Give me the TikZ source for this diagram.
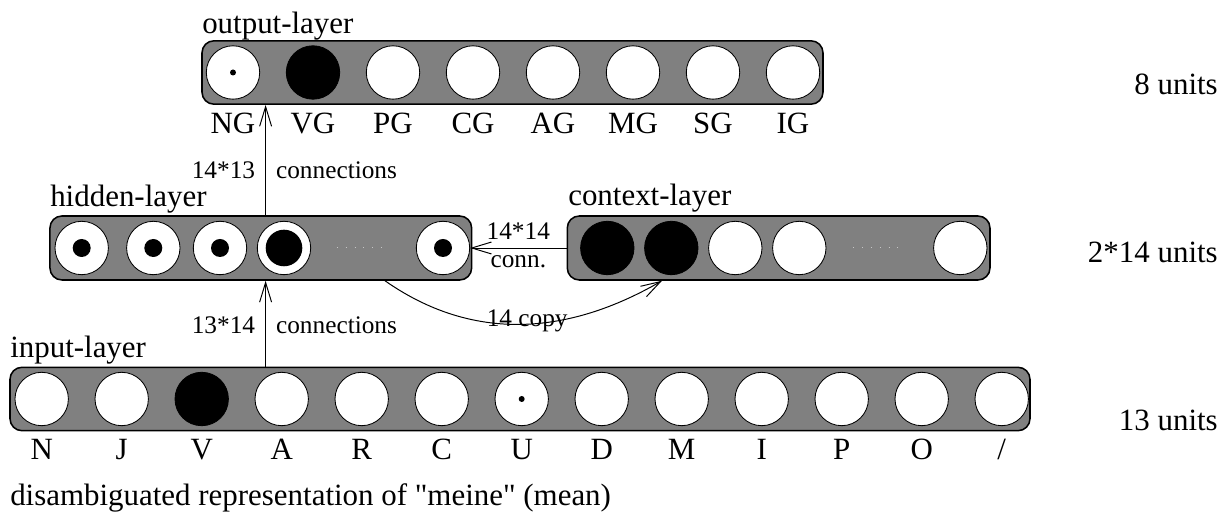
\documentclass[tikz,border=0pt]{standalone}
\usepackage{fontspec}
\setmainfont{Liberation Serif}
\newfontfamily\plainserif{Liberation Serif}
\usepackage{tikz}
\usetikzlibrary{arrows.meta}

\newcommand{\biglbl}{\fontsize{22}{26}\selectfont}
\newcommand{\smalllbl}{\fontsize{18}{21}\selectfont}

\begin{document}
\begin{tikzpicture}[node distance=2cm, >={Straight Barb[length=14pt, width=8.5pt]},
    neuron/.style={circle, draw, fill=white, minimum size=1.335cm, inner sep=0pt, line width=0.6pt},
    fired/.style={neuron, fill=black},
    layerbox/.style={draw, line width=1.1pt, fill=gray, rounded corners=0.3cm, minimum height=1.585cm, inner sep=0pt},
    layername/.style={anchor=base west, font=\biglbl, inner sep=0pt},
    every label/.style={font=\biglbl}, label distance=0.2cm]
    \useasboundingbox (0,0) rectangle (30.525,12.875);

    % output layer
    \node[layerbox, minimum width=15.525cm] (outbox) at (12.8125,11.0625) {};
    \node[neuron, label=below:NG] (NG) at (5.825,11.0625) {};
    \node[fired, label=below:VG] (VG) [right of=NG] {};
    \node[neuron, label=below:PG] (PG) [right of=VG] {};
    \node[neuron, label=below:CG] (CG) [right of=PG] {};
    \node[neuron, label=below:AG] (AG) [right of=CG] {};
    \node[neuron, label=below:MG] (MG) [right of=AG] {};
    \node[neuron, label=below:SG] (SG) [right of=MG] {};
    \node[neuron, label=below:IG] (IG) [right of=SG] {};
    \fill (NG) circle (0.075cm);

    % hidden layer
    \node[layerbox, minimum width=10.5425cm, minimum height=1.6cm] (hidbox) at (6.52,6.675) {};
    \node[neuron] (h1) at (2.0425,6.675) {};
    \node[neuron] (h2) at (3.8325,6.675) {};
    \node[neuron] (h3) at (5.5,6.675) {};
    \node[neuron] (h4) at (7.1,6.675) {};
    \node[neuron] (h14) at (11.075,6.675) {};
    \fill (h1) circle (0.225cm);
    \fill (h2) circle (0.225cm);
    \fill (h3) circle (0.225cm);
    \fill (h4) circle (0.4575cm);
    \fill (h14) circle (0.225cm);
    \draw[gray!45, line width=0.8pt, dash pattern=on 0.5pt off 5.8pt] (8.42,6.68) -- (9.6,6.68);

    % context layer
    \node[layerbox, minimum width=10.5675cm, minimum height=1.6cm] (ctxbox) at (19.466,6.675) {};
    \node[fired] (c1) at (15.1825,6.675) {};
    \node[fired] (c2) [right of=c1, node distance=1.6cm] {};
    \node[neuron] (c3) [right of=c2, node distance=1.6cm] {};
    \node[neuron] (c4) [right of=c3, node distance=1.6cm] {};
    \node[neuron] (c14) at (24.0075,6.675) {};
    \draw[gray!45, line width=0.8pt, dash pattern=on 0.5pt off 5.8pt] (21.33,6.68) -- (22.5,6.68);

    % input layer
    \node[layerbox, minimum width=25.5cm] (inbox) at (13,2.9) {};
    \node[neuron, label=below:N] (N) at (1.0425,2.9) {};
    \node[neuron, label=below:J] (J) [right of=N] {};
    \node[fired, label=below:V] (V) [right of=J] {};
    \node[neuron, label=below:A] (A) [right of=V] {};
    \node[neuron, label=below:R] (R) [right of=A] {};
    \node[neuron, label=below:C] (C) [right of=R] {};
    \node[neuron, label=below:U] (U) [right of=C] {};
    \node[neuron, label=below:D] (D) [right of=U] {};
    \node[neuron, label=below:M] (M) [right of=D] {};
    \node[neuron, label=below:I] (I) [right of=M] {};
    \node[neuron, label=below:P] (P) [right of=I] {};
    \node[neuron, label=below:O] (O) [right of=P] {};
    \node[neuron, label=below:/] (slash) [right of=O] {};
    \fill (U) circle (0.075cm);

    % layer names
    \node[layername] (outname) at (5.05,12.0425) {output-layer};
    \node[layername] (hidname) at (1.25,7.7075) {hidden-layer};
    \node[layername] (ctxname) at (14.2,7.725) {context-layer};
    \node[layername] (inname) at (0.25,3.925) {input-layer};

    \node[anchor=base east, font=\biglbl, inner sep=0pt] (n8) at (30.45,10.5) {8 units};
    \node[anchor=base east, font=\biglbl, inner sep=0pt] (n28) at (30.45,6.3) {2*14 units};
    \node[anchor=base east, font=\biglbl, inner sep=0pt] (n13) at (30.45,2.1) {13 units};
    \node[anchor=base west, font=\biglbl\plainserif, inner sep=0pt] (caption) at (0.25,0.225) {disambiguated representation of "meine" (mean)};

    % connections
    \coordinate (col) at (6.64,0);
    \coordinate (cpyA) at (9.625,0);
    \coordinate (cpyB) at (16.55,0);
    \draw[->, line width=0.7pt] (col |- inbox.north) -- (col |- hidbox.south)
        node[pos=0.38, anchor=base east, xshift=-0.25cm, inner sep=0pt, font=\smalllbl] {13*14}
        node[pos=0.38, anchor=base west, xshift=0.25cm, inner sep=0pt, font=\smalllbl] {connections};
    \draw[->, line width=0.7pt] (col |- hidbox.north) -- (col |- outbox.south)
        node[pos=0.337, anchor=base east, xshift=-0.25cm, inner sep=0pt, font=\smalllbl] {14*13}
        node[pos=0.337, anchor=base west, xshift=0.25cm, inner sep=0pt, font=\smalllbl] {connections};
    \draw[->, line width=0.7pt] (ctxbox.west) -- (h14.east)
        node[midway, above=0.2cm, inner sep=0pt, font=\smalllbl] {14*14}
        node[midway, below=0.18cm, inner sep=0pt, font=\smalllbl] {conn.};
    \draw[->, line width=0.7pt] (cpyA |- hidbox.south) to[out=-35, in=-150]
        node[pos=0.52, anchor=base, yshift=-0.07cm, inner sep=0pt, font=\smalllbl] {14 copy} (cpyB |- ctxbox.south);

\end{tikzpicture}
\end{document}
